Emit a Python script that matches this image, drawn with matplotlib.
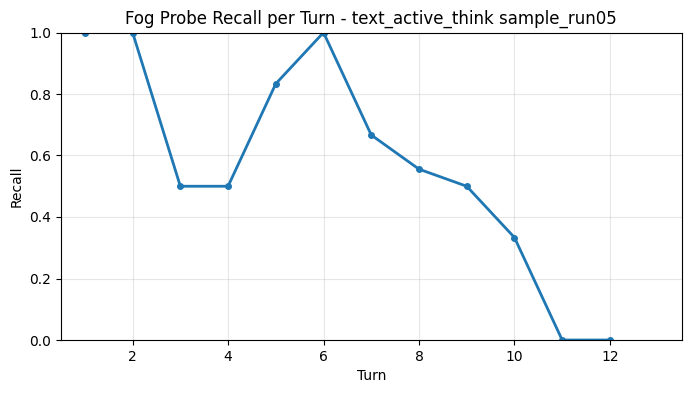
import numpy as np
import matplotlib.pyplot as plt

turns = [1, 2, 3, 4, 5, 6, 7, 8, 9, 10, 11, 12]
recall = [1.0, 1.0, 0.5, 0.5, 0.8333, 1.0, 0.6667, 0.5556, 0.5, 0.3333, 0.0, 0.0]

fig = plt.figure(figsize=(6.91, 3.93), dpi=100)
ax = fig.add_axes([61 / 691, 1 - 340 / 393, (681.5 - 61) / 691, (340 - 32.5) / 393])
ax.plot(turns, recall, marker='o', linewidth=2, markersize=4, color='#1f77b4')
ax.set_xlim(0.5, 13.5)
ax.set_ylim(0, 1)
ax.set_xlabel('Turn')
ax.set_ylabel('Recall')
ax.set_title('Fog Probe Recall per Turn - text_active_think sample_run05')
ax.grid(True, alpha=0.3)
fig.savefig('out.png', dpi=100)
